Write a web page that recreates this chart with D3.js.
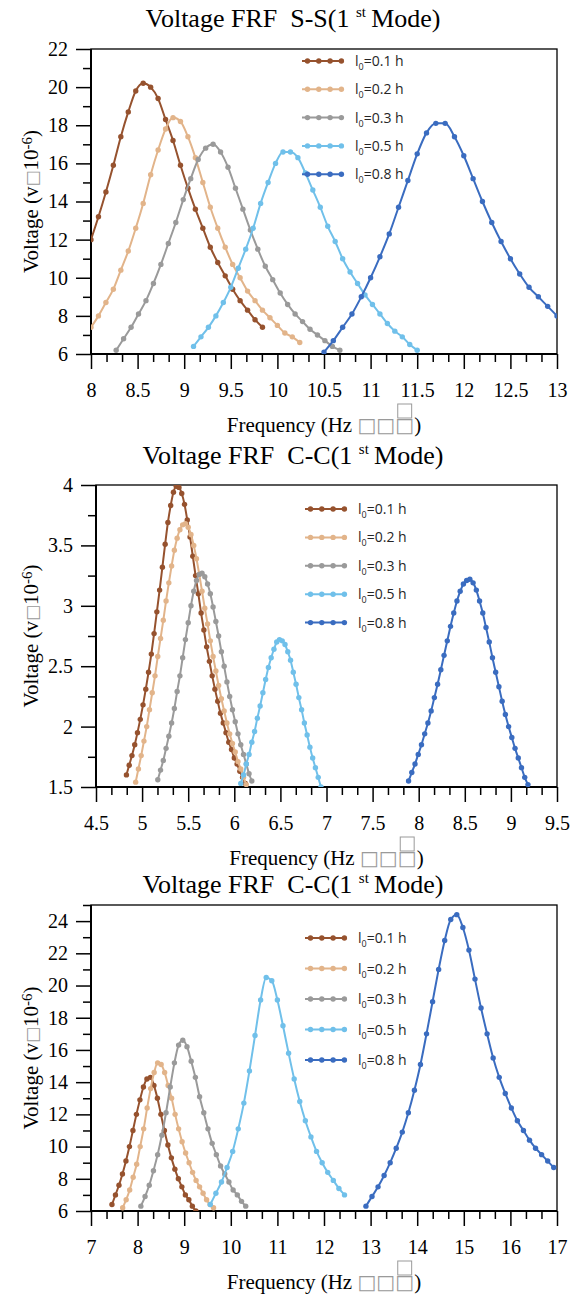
<!DOCTYPE html>
<html>
<head>
<meta charset="utf-8">
<script src="https://cdn.jsdelivr.net/npm/d3@7"></script>
<style>
  body { margin: 0; background: #fff; }
  svg text { font-family: "Liberation Serif", "Times New Roman", serif; }
</style>
</head>
<body>
<div id="vis"></div>
<script>
'use strict';

// legend labels (l0 = ...) and series colours
var lengths = ['0.1', '0.2', '0.3', '0.5', '0.8'];
var colors = ['#96522e', '#e2b48a', '#9a9a9a', '#70c0ea', '#3a6cc0'];

// ---- chart 1 : S-S ----
var ssXTicks = [8, 8.5, 9, 9.5, 10, 10.5, 11, 11.5, 12, 12.5, 13];
var ssYTicks = [6, 8, 10, 12, 14, 16, 18, 20, 22];
var ssStart = [8.00, 8.00, 8.27, 9.10, 10.50];   // first frequency of each sweep (Hz)
var ssStep = [0.08, 0.08, 0.08, 0.08, 0.10];     // frequency step of each sweep (Hz)
var ss01 = [12.0, 13.2, 14.5, 15.9, 17.4, 18.7, 19.8, 20.2, 20.0, 19.4, 18.3, 17.2, 15.9, 14.7, 13.6, 12.6, 11.6, 10.8, 10.1, 9.4, 8.8, 8.3, 7.8, 7.4];
var ss02 = [7.4, 8.0, 8.7, 9.4, 10.4, 11.4, 12.6, 13.9, 15.4, 16.7, 17.8, 18.4, 18.2, 17.4, 16.3, 15.0, 13.7, 12.6, 11.6, 10.7, 10.0, 9.3, 8.8, 8.3, 7.9, 7.5, 7.1, 6.9, 6.6];
var ss03 = [6.2, 6.8, 7.4, 8.1, 8.8, 9.7, 10.7, 11.8, 12.9, 14.1, 15.2, 16.2, 16.8, 17.0, 16.6, 15.8, 14.7, 13.6, 12.5, 11.5, 10.6, 9.9, 9.2, 8.6, 8.1, 7.7, 7.3, 7.0, 6.7, 6.4, 6.2];
var ss05 = [6.4, 6.9, 7.4, 8.0, 8.7, 9.5, 10.5, 11.5, 12.6, 13.9, 15.0, 16.0, 16.6, 16.6, 16.3, 15.5, 14.6, 13.7, 12.7, 11.9, 11.0, 10.3, 9.7, 9.1, 8.6, 8.1, 7.6, 7.2, 6.9, 6.5, 6.2];
var ss08 = [6.1, 6.7, 7.4, 8.1, 9.0, 10.0, 11.1, 12.3, 13.7, 15.1, 16.5, 17.6, 18.1, 18.1, 17.4, 16.4, 15.2, 14.0, 12.9, 11.9, 11.0, 10.2, 9.5, 9.0, 8.5, 8.0];

// ---- chart 2 : C-C ----
var ccXTicks = [4.5, 5, 5.5, 6, 6.5, 7, 7.5, 8, 8.5, 9, 9.5];
var ccYTicks = [1.5, 2, 2.5, 3, 3.5, 4];
var ccStart = [4.83, 4.93, 5.17, 6.07, 7.89];
var ccStep = [0.03, 0.03, 0.03, 0.03, 0.035];
var cc01 = [1.60, 1.68, 1.76, 1.85, 1.95, 2.06, 2.18, 2.31, 2.45, 2.60, 2.77, 2.95, 3.13, 3.32, 3.51, 3.69, 3.83, 3.94, 3.99, 3.98, 3.93, 3.84, 3.71, 3.57, 3.41, 3.25, 3.10, 2.94, 2.80, 2.66, 2.54, 2.42, 2.31, 2.21, 2.11, 2.03, 1.95, 1.87, 1.81, 1.74, 1.69, 1.63, 1.58, 1.53];
var cc02 = [1.54, 1.65, 1.76, 1.88, 2.00, 2.14, 2.28, 2.42, 2.58, 2.73, 2.88, 3.04, 3.19, 3.33, 3.46, 3.56, 3.63, 3.67, 3.68, 3.65, 3.59, 3.50, 3.39, 3.26, 3.12, 2.98, 2.85, 2.71, 2.58, 2.46, 2.34, 2.23, 2.13, 2.03, 1.94, 1.86, 1.79, 1.71, 1.65, 1.58, 1.52];
var cc03 = [1.56, 1.64, 1.72, 1.82, 1.92, 2.03, 2.15, 2.29, 2.42, 2.57, 2.72, 2.86, 3.00, 3.12, 3.21, 3.26, 3.27, 3.24, 3.18, 3.10, 2.99, 2.87, 2.75, 2.62, 2.50, 2.37, 2.25, 2.14, 2.04, 1.94, 1.85, 1.77, 1.69, 1.61, 1.55];
var cc05 = [1.53, 1.60, 1.69, 1.77, 1.87, 1.96, 2.07, 2.17, 2.28, 2.39, 2.49, 2.57, 2.64, 2.70, 2.72, 2.71, 2.68, 2.62, 2.55, 2.45, 2.35, 2.24, 2.14, 2.03, 1.93, 1.83, 1.74, 1.66, 1.58, 1.50];
var cc08 = [1.55, 1.62, 1.69, 1.77, 1.85, 1.94, 2.03, 2.13, 2.24, 2.35, 2.47, 2.59, 2.71, 2.83, 2.94, 3.04, 3.12, 3.18, 3.21, 3.22, 3.19, 3.13, 3.04, 2.94, 2.82, 2.70, 2.57, 2.45, 2.33, 2.21, 2.10, 2.00, 1.91, 1.82, 1.74, 1.66, 1.58, 1.52];

// ---- chart 3 : C-C (second set) ----
var cdXTicks = [7, 8, 9, 10, 11, 12, 13, 14, 15, 16, 17];
var cdYTicks = [6, 8, 10, 12, 14, 16, 18, 20, 22, 24];
var cdStart = [7.45, 7.68, 8.07, 9.56, 12.90];
var cdStep = [0.075, 0.075, 0.09, 0.12, 0.13];
var cd01 = [6.4, 7.0, 7.6, 8.3, 9.1, 10.0, 11.0, 12.0, 12.9, 13.7, 14.2, 14.3, 13.8, 13.0, 12.0, 11.0, 10.1, 9.3, 8.6, 8.0, 7.5, 7.0, 6.7, 6.3, 6.0];
var cd02 = [6.2, 6.7, 7.3, 8.1, 8.9, 10.0, 11.1, 12.4, 13.6, 14.6, 15.2, 15.1, 14.6, 13.8, 13.0, 12.0, 11.1, 10.3, 9.6, 9.0, 8.4, 7.9, 7.5, 7.1, 6.7, 6.4, 6.2];
var cd03 = [6.3, 6.9, 7.6, 8.5, 9.5, 10.7, 12.1, 13.7, 15.2, 16.3, 16.6, 16.2, 15.3, 14.3, 13.1, 12.1, 11.1, 10.2, 9.5, 8.8, 8.3, 7.8, 7.3, 7.0, 6.6, 6.3];
var cd05 = [6.4, 7.1, 7.8, 8.7, 9.7, 11.1, 12.7, 14.7, 16.9, 19.1, 20.5, 20.3, 19.1, 17.5, 15.8, 14.2, 12.8, 11.6, 10.6, 9.7, 9.0, 8.4, 7.9, 7.4, 7.0];
var cd08 = [6.3, 6.9, 7.5, 8.2, 9.0, 9.9, 10.9, 12.1, 13.5, 15.1, 17.0, 19.0, 21.0, 22.8, 24.1, 24.4, 23.6, 22.2, 20.4, 18.6, 17.0, 15.5, 14.3, 13.3, 12.4, 11.6, 11.0, 10.4, 9.9, 9.5, 9.1, 8.7];

// layout of the three panels
var charts = [
  { name: 'S-S', titleY: 27, left: 91, right: 557, top: 49, bottom: 354,
    xDom: [8, 13], yDom: [6, 22], xTicks: ssXTicks, yTicks: ssYTicks, xMinor: 0.5 / 3, yMinor: 1,
    series: [ss01, ss02, ss03, ss05, ss08], starts: ssStart, steps: ssStep,
    legend: { x0: 302, x1: 343, tx: 355, y0: 61, gap: 28.3 } },
  { name: 'C-C', titleY: 464, left: 96, right: 557, top: 485, bottom: 787,
    xDom: [4.5, 9.5], yDom: [1.5, 4], xTicks: ccXTicks, yTicks: ccYTicks, xMinor: 0.5 / 3, yMinor: 0.25,
    series: [cc01, cc02, cc03, cc05, cc08], starts: ccStart, steps: ccStep,
    legend: { x0: 305, x1: 345, tx: 358, y0: 509, gap: 28.4 } },
  { name: 'C-C', titleY: 893, left: 91, right: 557, top: 905, bottom: 1211,
    xDom: [7, 17], yDom: [6, 25], xTicks: cdXTicks, yTicks: cdYTicks, xMinor: 1 / 3, yMinor: 1,
    series: [cd01, cd02, cd03, cd05, cd08], starts: cdStart, steps: cdStep,
    legend: { x0: 305, x1: 345, tx: 358, y0: 938, gap: 30.5 } }
];

var svg = d3.select('#vis').append('svg')
    .attr('width', 574)
    .attr('height', 1298);

charts.forEach(drawChart);

function notMajor(list) {
  return function(v) {
    return !list.some(function(t) { return Math.abs(t - v) < 1e-6; });
  };
}

function drawChart(c, ci) {
  var x = d3.scaleLinear().domain(c.xDom).range([c.left, c.right]);
  var y = d3.scaleLinear().domain(c.yDom).range([c.bottom, c.top]);
  var g = svg.append('g');

  // title
  var t = g.append('text')
      .attr('x', 293).attr('y', c.titleY)
      .attr('text-anchor', 'middle')
      .style('font-size', '26px');
  t.append('tspan').text('Voltage FRF\u00a0\u00a0' + c.name + '(1\u00a0');
  t.append('tspan').attr('dy', -10).style('font-size', '15px').text('st');
  t.append('tspan').attr('dy', 10).text('\u2009Mode)');

  // clip for the curves
  var cid = 'clip' + ci;
  g.append('clipPath').attr('id', cid)
    .append('rect')
      .attr('x', c.left).attr('y', c.top)
      .attr('width', c.right - c.left).attr('height', c.bottom - c.top);

  // axes: minor ticks short, major ticks long, all outside
  var xMinors = d3.range(c.xDom[0], c.xDom[1] + 1e-6, c.xMinor).filter(notMajor(c.xTicks));
  var yMinors = d3.range(c.yDom[0], c.yDom[1] + 1e-6, c.yMinor).filter(notMajor(c.yTicks));

  g.append('g').attr('class', 'ax').attr('transform', 'translate(0,' + c.bottom + ')')
    .call(d3.axisBottom(x).tickValues(xMinors).tickSize(8).tickFormat(''));
  g.append('g').attr('class', 'ax').attr('transform', 'translate(0,' + c.bottom + ')')
    .call(d3.axisBottom(x).tickValues(c.xTicks).tickSize(15).tickPadding(14).tickFormat(function(d) { return d; }));
  g.append('g').attr('class', 'ax').attr('transform', 'translate(' + c.left + ',0)')
    .call(d3.axisLeft(y).tickValues(yMinors).tickSize(8).tickFormat(''));
  g.append('g').attr('class', 'ax').attr('transform', 'translate(' + c.left + ',0)')
    .call(d3.axisLeft(y).tickValues(c.yTicks).tickSize(15).tickPadding(8).tickFormat(function(d) { return d; }));

  g.selectAll('.ax .domain').remove();
  g.selectAll('.ax .tick line').attr('stroke', '#000').attr('stroke-width', 1.5);
  g.selectAll('.ax .tick text')
      .attr('fill', '#000')
      .style('font-family', '"Liberation Serif", serif')
      .style('font-size', '20px');

  // frame
  g.append('rect')
      .attr('x', c.left).attr('y', c.top)
      .attr('width', c.right - c.left).attr('height', c.bottom - c.top)
      .attr('fill', 'none').attr('stroke', '#000').attr('stroke-width', 1.3);
  g.append('path')
      .attr('d', 'M' + c.left + ',' + c.top + 'V' + c.bottom + 'H' + c.right)
      .attr('fill', 'none').attr('stroke', '#000').attr('stroke-width', 2);

  // curves with markers
  var line = d3.line()
      .x(function(d) { return x(d[0]); })
      .y(function(d) { return y(d[1]); })
      .curve(d3.curveMonotoneX);

  c.series.forEach(function(vals, i) {
    var pts = vals.map(function(v, k) { return [c.starts[i] + k * c.steps[i], v]; });
    var s = g.append('g').attr('clip-path', 'url(#' + cid + ')');
    s.append('path').datum(pts)
        .attr('d', line)
        .attr('fill', 'none')
        .attr('stroke', colors[i])
        .attr('stroke-width', 2);
    s.selectAll('circle').data(pts).enter().append('circle')
        .attr('cx', function(d) { return x(d[0]); })
        .attr('cy', function(d) { return y(d[1]); })
        .attr('r', 2.7)
        .attr('fill', colors[i]);
  });

  // legend
  var L = c.legend;
  lengths.forEach(function(lab, i) {
    var ly = L.y0 + i * L.gap;
    g.append('line')
        .attr('x1', L.x0).attr('x2', L.x1).attr('y1', ly).attr('y2', ly)
        .attr('stroke', colors[i]).attr('stroke-width', 2);
    d3.range(4).forEach(function(j) {
      g.append('circle')
          .attr('cx', L.x0 + 5.5 + j * 11.3).attr('cy', ly)
          .attr('r', 2.7).attr('fill', colors[i]);
    });
    var lt = g.append('text')
        .attr('x', L.tx).attr('y', ly + 5)
        .attr('fill', '#262626')
        .style('font-family', '"Open Sans", sans-serif')
        .style('font-size', '14px');
    lt.append('tspan').text('l');
    lt.append('tspan').attr('dy', 4).style('font-size', '9px').text('0');
    lt.append('tspan').attr('dy', -4).text('=' + lab + ' h');
  });

  // x axis title (missing glyphs shown as boxes, like the source)
  var xt = g.append('text')
      .attr('x', (c.left + c.right) / 2).attr('y', c.bottom + 78)
      .attr('text-anchor', 'middle')
      .style('font-size', '21px');
  xt.append('tspan').text('Frequency (Hz\u00a0');
  xt.append('tspan')
      .style('font-family', '"DejaVu Sans", sans-serif')
      .style('font-size', '20px')
      .attr('fill', '#9a9a9a')
      .text('\u25a1\u25a1\u25a1');
  xt.append('tspan').text(')');
  // the stray raised box above the last placeholder
  var ext = xt.node().getExtentOfChar(16);
  var base = xt.node().getStartPositionOfChar(16);
  g.append('rect')
      .attr('x', ext.x + 2.5).attr('y', base.y - 28)
      .attr('width', ext.width - 5).attr('height', 14)
      .attr('fill', 'none').attr('stroke', '#9a9a9a').attr('stroke-width', 1);

  // y axis title
  var yt = g.append('text')
      .attr('transform', 'translate(38,' + (c.top + c.bottom) / 2 + ') rotate(-90)')
      .attr('text-anchor', 'middle')
      .style('font-size', '21px');
  yt.append('tspan').text('Voltage (v');
  yt.append('tspan')
      .style('font-family', '"DejaVu Sans", sans-serif')
      .style('font-size', '17px')
      .attr('fill', '#9a9a9a')
      .text('\u25a1');
  yt.append('tspan').text('10');
  yt.append('tspan').attr('dy', -6).style('font-size', '15px').text('-6');
  yt.append('tspan').attr('dy', 6).text(')');
}
</script>
</body>
</html>
